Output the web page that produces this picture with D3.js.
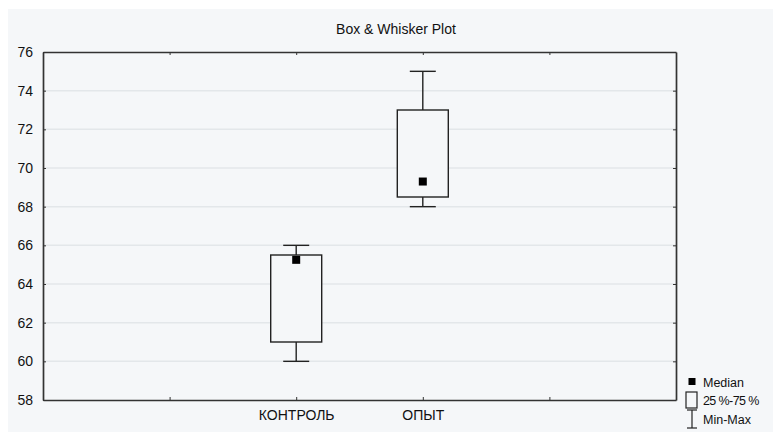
<!DOCTYPE html>
<html>
<head>
<meta charset="utf-8">
<script src="https://cdn.jsdelivr.net/npm/d3@7"></script>
<style>
  body { margin: 0; background: #ffffff; }
  text { font-family: "Liberation Sans", Arial, sans-serif; fill: #111; }
</style>
</head>
<body>
<svg id="chart" width="775" height="432"></svg>
<script>
// data
const categories = ["КОНТРОЛЬ", "ОПЫТ"];
const catPos = [2, 3];
const minVals = [60, 68];
const q1Vals = [61, 68.5];
const medianVals = [65.25, 69.3];
const q3Vals = [65.5, 73];
const maxVals = [66, 75];
const yTicks = [58, 60, 62, 64, 66, 68, 70, 72, 74, 76];
const xTicks = [1, 2, 3, 4];

const svg = d3.select("#chart");
const margin = { top: 52, right: 99, bottom: 32, left: 43 };
const width = +svg.attr("width");
const height = +svg.attr("height");

svg.append("rect")
  .attr("x", 8).attr("y", 9)
  .attr("width", width - 10).attr("height", height - 9)
  .attr("fill", "#f5f7f9");

const x = d3.scaleLinear().domain([0, 5]).range([margin.left, width - margin.right]);
const y = d3.scaleLinear().domain([58, 76]).range([height - margin.bottom, margin.top]);

// grid lines
svg.append("g")
  .selectAll("line")
  .data(yTicks.slice(1, -1))
  .enter()
  .append("line")
  .attr("x1", x(0)).attr("x2", x(5))
  .attr("y1", d => y(d)).attr("y2", d => y(d))
  .attr("stroke", "#e3e7ea")
  .attr("stroke-width", 1.5);

// axes
const leftAxis = svg.append("g")
  .attr("transform", `translate(${x(0)},0)`)
  .call(d3.axisLeft(y).tickValues(yTicks).tickSizeInner(-3).tickSizeOuter(0).tickPadding(10));
const rightAxis = svg.append("g")
  .attr("transform", `translate(${x(5)},0)`)
  .call(d3.axisRight(y).tickValues(yTicks).tickSizeInner(-3).tickSizeOuter(0).tickFormat(""));
const bottomAxis = svg.append("g")
  .attr("transform", `translate(0,${y(58)})`)
  .call(d3.axisBottom(x).tickValues(xTicks).tickSizeInner(-3).tickSizeOuter(0).tickPadding(10)
    .tickFormat(d => { const i = catPos.indexOf(d); return i >= 0 ? categories[i] : ""; }));
const topAxis = svg.append("g")
  .attr("transform", `translate(0,${y(76)})`)
  .call(d3.axisTop(x).tickValues(xTicks).tickSizeInner(-3).tickSizeOuter(0).tickFormat(""));

[leftAxis, rightAxis, bottomAxis, topAxis].forEach(g => {
  g.select(".domain").attr("stroke", "#333").attr("stroke-width", 1.7);
  g.selectAll(".tick line").attr("stroke", "#333");
  g.selectAll("text").style("font-size", "14px").attr("fill", "#111");
});

// boxes
const boxW = 51, capW = 26;
const boxes = svg.append("g").selectAll("g")
  .data(categories.map((c, i) => ({ pos: catPos[i], min: minVals[i], q1: q1Vals[i], med: medianVals[i], q3: q3Vals[i], max: maxVals[i] })))
  .enter()
  .append("g");

boxes.append("line")
  .attr("x1", d => x(d.pos)).attr("x2", d => x(d.pos))
  .attr("y1", d => y(d.max)).attr("y2", d => y(d.min))
  .attr("stroke", "#222").attr("stroke-width", 1.4);
boxes.append("line")
  .attr("x1", d => x(d.pos) - capW / 2).attr("x2", d => x(d.pos) + capW / 2)
  .attr("y1", d => y(d.max)).attr("y2", d => y(d.max))
  .attr("stroke", "#222").attr("stroke-width", 1.4);
boxes.append("line")
  .attr("x1", d => x(d.pos) - capW / 2).attr("x2", d => x(d.pos) + capW / 2)
  .attr("y1", d => y(d.min)).attr("y2", d => y(d.min))
  .attr("stroke", "#222").attr("stroke-width", 1.4);
boxes.append("rect")
  .attr("x", d => x(d.pos) - boxW / 2)
  .attr("y", d => y(d.q3))
  .attr("width", boxW)
  .attr("height", d => y(d.q1) - y(d.q3))
  .attr("fill", "#f5f7f9")
  .attr("stroke", "#222").attr("stroke-width", 1.4);
boxes.append("rect")
  .attr("x", d => x(d.pos) - 4)
  .attr("y", d => y(d.med) - 4)
  .attr("width", 8).attr("height", 8)
  .attr("fill", "#000");

// title
svg.append("text")
  .attr("x", 396).attr("y", 34)
  .attr("text-anchor", "middle")
  .style("font-size", "14px")
  .text("Box & Whisker Plot");

// legend
const lg = svg.append("g").attr("transform", "translate(692,0)");
lg.append("rect").attr("x", -3.5).attr("y", 378).attr("width", 7).attr("height", 7).attr("fill", "#000");
lg.append("text").attr("x", 11).attr("y", 387).style("font-size", "12.5px").text("Median");
lg.append("rect").attr("x", -6).attr("y", 392).attr("width", 11).attr("height", 16)
  .attr("fill", "none").attr("stroke", "#222").attr("stroke-width", 1.2);
lg.append("text").attr("x", 11).attr("y", 405).style("font-size", "12.5px").attr("letter-spacing", "-0.6").text("25 %-75 %");
lg.append("line").attr("x1", -5).attr("x2", 5).attr("y1", 410).attr("y2", 410).attr("stroke", "#222").attr("stroke-width", 1.2);
lg.append("line").attr("x1", 0).attr("x2", 0).attr("y1", 410).attr("y2", 428).attr("stroke", "#222").attr("stroke-width", 1.2);
lg.append("line").attr("x1", -5).attr("x2", 5).attr("y1", 428).attr("y2", 428).attr("stroke", "#222").attr("stroke-width", 1.2);
lg.append("text").attr("x", 11).attr("y", 424).style("font-size", "12.5px").text("Min-Max");
</script>
</body>
</html>
